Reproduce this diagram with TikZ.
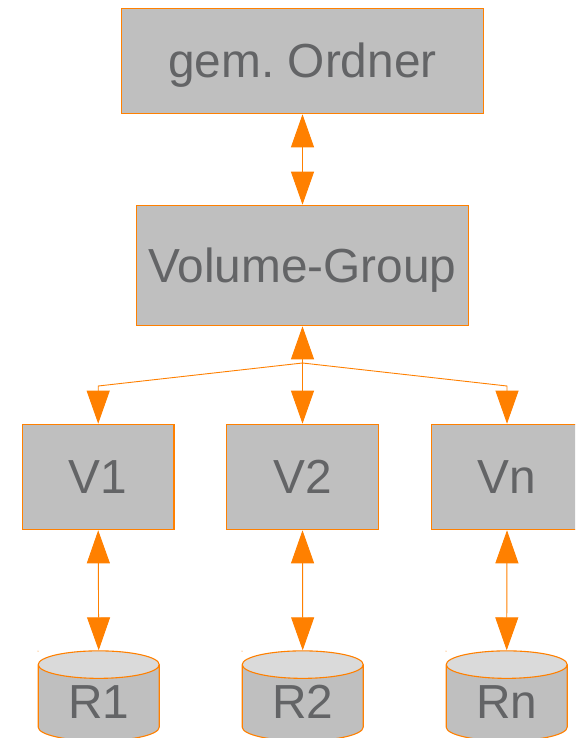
\documentclass[tikz,border=0pt]{standalone}
\usepackage{fontspec}
\setmainfont{Liberation Sans}
\usetikzlibrary{arrows.meta,shapes.geometric}
\definecolor{org}{HTML}{FF8000}
\definecolor{boxg}{HTML}{BFBFBF}
\definecolor{capg}{HTML}{DADADA}
\definecolor{txtg}{HTML}{636466}
\tikzset{
  box/.style={draw=org,fill=boxg,line width=1.1pt,text=txtg,inner sep=0pt,anchor=center,text height=33pt,text depth=0pt,font=\fontsize{47.8}{48}\selectfont},
  drum/.style={shape=cylinder,shape border rotate=90,aspect=0.45,draw=org,line width=1.1pt,
    cylinder uses custom fill,cylinder body fill=boxg,cylinder end fill=capg,
    minimum width=121pt,minimum height=90pt,inner sep=0pt,text=txtg,text height=31pt,text depth=0pt,font=\fontsize{47.8}{48}\selectfont},
  link/.style={draw=org,line width=0.9pt},
  tip/.style={-{Triangle[length=33pt,width=23pt,color=org]}},
  both/.style={{Triangle[length=33pt,width=23pt,color=org]}-{Triangle[length=33pt,width=23pt,color=org]}}
}
\begin{document}
\begin{tikzpicture}[x=1pt,y=-1pt]
\useasboundingbox (0,0) rectangle (575,738);
\clip (0,0) rectangle (575,738);
\fill[white] (0,0) rectangle (575,738);
\node[box,minimum width=362.5pt,minimum height=105.5pt] (gem) at (302.5,61) {gem.\ Ordner};
\node[box,minimum width=332.5pt,minimum height=120.5pt] (vg) at (302.5,265.5) {Volume-Group};
\node[box,minimum width=151.5pt,minimum height=105.5pt] (v1) at (98.2,477) {V1};
\node[box,minimum width=151.5pt,minimum height=105.5pt] (v2) at (302.5,477) {V2};
\node[box,minimum width=151.5pt,minimum height=105.5pt] (vn) at (507,477) {Vn};
\node[drum] (r1) at (98.7,703) {R1};
\node[drum] (r2) at (302.7,703) {R2};
\node[drum] (rn) at (506.7,703) {Rn};
\fill[org] (38,651) circle (0.5pt) (242,651) circle (0.5pt) (446,651) circle (0.5pt);
\coordinate (j) at (302.5,363);
\coordinate (k1) at (98.2,386);
\coordinate (kn) at (507,386);
\draw[link,both] (gem.south) -- (vg.north);
\draw[link,tip] (j) -- (vg.south);
\draw[link,tip] (j) -- (k1) -- (v1.north);
\draw[link,tip] (j) -- (v2.north);
\draw[link,tip] (j) -- (kn) -- (vn.north);
\draw[link,both] (v1.south) -- (r1.north);
\draw[link,both] (v2.south) -- (r2.north);
\draw[link,both] (vn.south) -- (rn.north);
\end{tikzpicture}
\end{document}
